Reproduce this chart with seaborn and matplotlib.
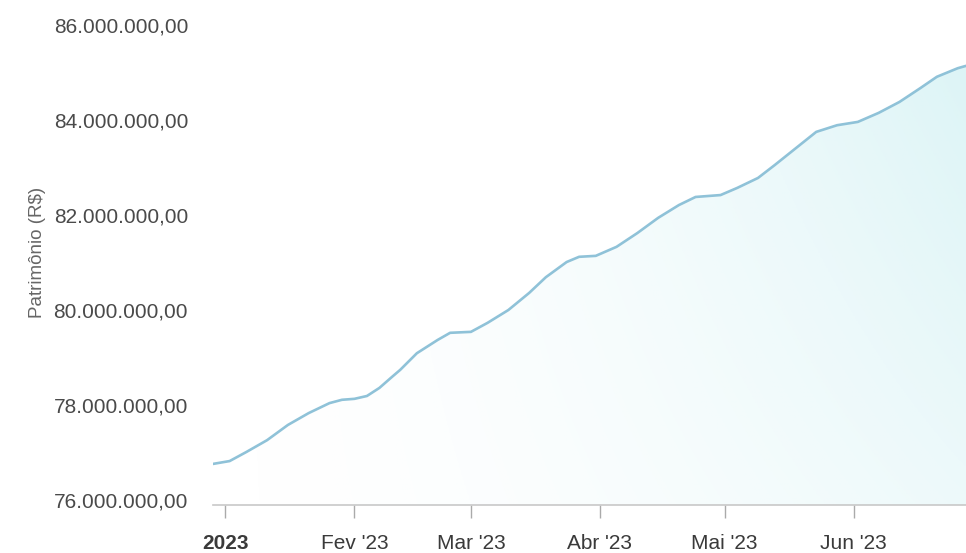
import numpy as np
import pandas as pd
import seaborn as sns
import matplotlib
matplotlib.use("Agg")
import matplotlib.pyplot as plt
import matplotlib.dates as mdates
from matplotlib.ticker import FuncFormatter

# Values
datas = ["2022-12-29", "2023-01-02", "2023-01-06", "2023-01-11", "2023-01-16",
         "2023-01-21", "2023-01-26", "2023-01-29", "2023-02-01", "2023-02-04",
         "2023-02-07", "2023-02-10", "2023-02-12", "2023-02-16", "2023-02-21",
         "2023-02-24", "2023-03-01", "2023-03-05", "2023-03-10", "2023-03-15",
         "2023-03-19", "2023-03-24", "2023-03-27", "2023-03-31", "2023-04-05",
         "2023-04-10", "2023-04-15", "2023-04-20", "2023-04-24", "2023-04-30",
         "2023-05-04", "2023-05-09", "2023-05-13", "2023-05-18", "2023-05-23",
         "2023-05-28", "2023-06-02", "2023-06-07", "2023-06-12", "2023-06-17",
         "2023-06-21", "2023-06-26", "2023-06-28"]
patrimonio = [76.76, 76.82, 77.01, 77.26, 77.58,
              77.83, 78.04, 78.11, 78.13, 78.19,
              78.36, 78.59, 78.74, 79.09, 79.37,
              79.52, 79.54, 79.73, 80.00, 80.36,
              80.69, 81.01, 81.12, 81.14, 81.33,
              81.62, 81.94, 82.21, 82.38, 82.42,
              82.57, 82.78, 83.05, 83.40, 83.75,
              83.89, 83.96, 84.15, 84.38, 84.67,
              84.91, 85.09, 85.14]
patrimonio = [v * 1_000_000 for v in patrimonio]

tick_datas = ["2023-01-01", "2023-02-01", "2023-03-01", "2023-04-01", "2023-05-01", "2023-06-01"]
tick_rotulos = ["2023", "Fev '23", "Mar '23", "Abr '23", "Mai '23", "Jun '23"]

df = pd.DataFrame({"data": pd.to_datetime(datas), "patrimonio": patrimonio})

sns.set_theme(style="white")
plt.rcParams['font.family'] = ['Liberation Sans', 'DejaVu Sans']

fig = plt.figure(figsize=(9.66, 5.53), dpi=100)
ax = fig.add_axes([0.2205, 0.0868, 0.7795, 0.877])

sns.lineplot(data=df, x="data", y="patrimonio", ax=ax, color="#8fc2d8", linewidth=1.9, zorder=3)

# gradient fill under the line (fades towards the left)
x0 = mdates.date2num(pd.Timestamp("2022-12-29"))
x1 = mdates.date2num(pd.Timestamp("2023-06-28"))
y0, y1 = 75.895e6, 86.105e6
poly = ax.fill_between(df["data"], df["patrimonio"], y0, color="none")
grad = np.zeros((100, 300, 4))
grad[..., 0] = 0.80
grad[..., 1] = 0.94
grad[..., 2] = 0.95
h = np.linspace(0, 1, 300) ** 1.6
v = np.linspace(1, 0.5, 100)[:, None]
grad[..., 3] = 0.7 * h[None, :] * v
img = ax.imshow(grad, extent=[x0, x1, y0, y1], aspect="auto", origin="upper", zorder=1)
img.set_clip_path(poly.get_paths()[0], transform=ax.transData)

ax.set_xlim(pd.Timestamp("2022-12-29"), pd.Timestamp("2023-06-28"))
ax.set_ylim(y0, y1)
ax.set_yticks([76e6, 78e6, 80e6, 82e6, 84e6, 86e6])

def fmt_brl(v, pos):
    s = f"{v:,.2f}"
    return s.replace(",", "X").replace(".", ",").replace("X", ".")

ax.yaxis.set_major_formatter(FuncFormatter(fmt_brl))
ax.set_xticks(pd.to_datetime(tick_datas))
ax.set_xticklabels(tick_rotulos)
ax.get_xticklabels()[0].set_fontweight("bold")

ax.tick_params(axis="y", length=0, pad=18, labelsize=15, labelcolor="#4a4a4a")
ax.tick_params(axis="x", length=9, width=1, color="#aaaaaa", pad=12,
               labelsize=15, labelcolor="#3a3a3a", bottom=True)

for s in ["top", "right", "left"]:
    ax.spines[s].set_visible(False)
ax.spines["bottom"].set_color("#c8c8c8")
ax.spines["bottom"].set_linewidth(1.2)

ax.set_xlabel("")
ax.set_ylabel("Patrimônio (R$)", fontsize=13.5, color="#666666")
ax.yaxis.set_label_coords(-0.222, 0.52)
ax.grid(False)

fig.savefig("out.png", dpi=100)
